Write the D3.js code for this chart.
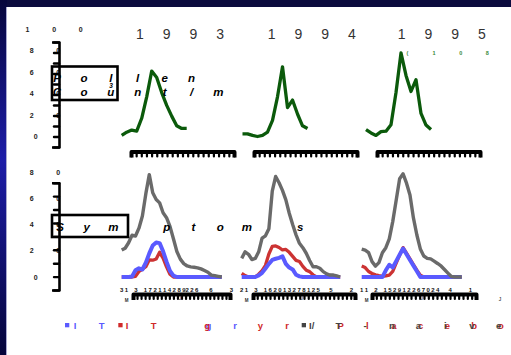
<!DOCTYPE html>
<html>
<head>
<meta charset="utf-8">
<script src="https://cdn.jsdelivr.net/npm/d3@7"></script>
<style>
  body { margin: 0; background: #fff; }
  svg { display: block; font-family: Arial, "Liberation Sans", sans-serif; }
</style>
</head>
<body>
<svg id="chart" width="511" height="355"></svg>
<script>
// ---- data ----
const years = ['1993', '1994', '1995'];

// pollen count / m3, weekly
const pollen1993 = [1, 4, 6, 5, 17, 37, 61, 55, 41, 29, 19, 10, 7.5, 7.5];
const pollen1994 = [2.5, 2.5, 1, 0, 1, 4, 15, 37, 65, 27, 34, 21, 10, 7.5];
const pollen1995 = [6.5, 3.3, 1, 4.5, 5, 11, 41, 78, 57, 42, 53, 21.5, 10.7, 6.5];
const pollenNote1995 = '(108';

// symptom scores
const naive1993 = [20.5, 21.9, 26.1, 31.8, 31.2, 37.2, 46.5, 63.5, 78, 64.2, 59.1, 56.5, 48.9, 45.2, 38.6, 29.1, 19.4, 13.6, 10.2, 8.4, 7.7, 7.4, 7, 6.2, 4.9, 3.6, 1.4, 1, 0.5, 0];
const red1993 = [0, 0, 0, 0, 0.5, 4.2, 5.9, 7.8, 13.1, 12.8, 13.7, 18.8, 14.4, 7.7, 2.1, 0, 0, 0, 0, 0, 0, 0, 0, 0, 0, 0, 0, 0, 0, 0];
const blue1993 = [0, 0, 0, 0.4, 5.1, 6.6, 5.7, 10.9, 18, 24, 26.3, 25.8, 19.6, 11.7, 4.7, 1.1, 0, 0, 0, 0, 0, 0, 0, 0, 0, 0, 0, 0, 0, 0];

const naive1994 = [14.2, 19.2, 17.3, 13.3, 14.1, 19.2, 29.6, 31.4, 36.7, 65.4, 76.6, 71.8, 66, 58.8, 48.6, 40, 32.1, 25.7, 22.3, 18.1, 12.6, 7.8, 7.8, 6.7, 4.1, 2.4, 1.5, 1.5, 0.8, 0];
const red1994 = [2.8, 1.1, 0, 0, 0.2, 2.1, 4.9, 8.9, 17.5, 23.4, 23.7, 22.5, 20.6, 21, 18.8, 15.7, 12.7, 11.8, 8.1, 5.2, 4.1, 1.7, 0, 0, 0, 0, 0, 0, 0, 0];
const blue1994 = [0, 0, 0, 0, 0, 1.2, 3.2, 6.5, 10, 13, 13.9, 14.6, 15.7, 10, 7.2, 5.8, 1.7, 0.5, 0, 0, 0, 0, 0, 0, 0, 0, 0, 0, 0, 0];

const naive1995 = [21.3, 20.5, 18.5, 11.7, 8.3, 11, 18.5, 22.3, 29, 42.2, 58.4, 74.9, 78.6, 71.5, 62.5, 45, 32, 21.4, 16, 14.2, 13.8, 12.1, 10.3, 8.4, 5.7, 3, 0.4, 0, 0, 0];
const red1995 = [8.4, 7.2, 4.2, 2.7, 1.7, 1, 0.4, 0.8, 1.4, 4.2, 10.6, 16.6, 22.4, 18.2, 13.8, 9.5, 5.2, 1.4, 0, 0, 0, 0, 0, 0, 0, 0, 0, 0, 0, 0];
const blue1995 = [0, 0, 0, 0, 0, 0, 0, 5.1, 9.3, 7.3, 12.1, 17, 21.7, 17.3, 12.9, 8.7, 4.4, 0, 0, 0, 0, 0, 0, 0, 0, 0, 0, 0, 0, 0];

// tick labels
const topTicks = [0, 20, 40, 60, 80, 100];
const bottomTicks = [0, 20, 40, 60, 80];
const dateLabels = [
  '3 1    3    1 7 2 1 1 4 2 8 92 2 6       6           3',
  '2 1    3    1 6 2 0 1 3 2 7 8 1 2 5      5           2',
  '1 1    2    1 5 2 9 1 2 2 6 7 0 2 4      4           1'
];
const monthMarks = ['M', 'J'];
const topLabel = ['Pollen', 'Count/m'];
const bottomLabel = 'Sym ptom s';
const legendBlue = 'IT   gr';
const legendRed = 'IT g yr Placebo';
const legendGray = ['I/', 'T', '-', 'n', 'a', 'i', 'v', 'e'];

const colors = { pollen: '#0b5a0b', naive: '#6a6a6a', red: '#cc3333', blue: '#5a5aff' };

// ---- drawing ----
const svg = d3.select('#chart');
const defs = svg.append('defs');
const grad = defs.append('linearGradient').attr('id', 'edge')
  .attr('x1', 0).attr('y1', 0).attr('x2', 0).attr('y2', 1);
grad.append('stop').attr('offset', '0%').attr('stop-color', '#06063c');
grad.append('stop').attr('offset', '45%').attr('stop-color', '#1d1da8');
grad.append('stop').attr('offset', '100%').attr('stop-color', '#05053a');

svg.append('rect').attr('width', 511).attr('height', 355).attr('fill', '#0b0b3e');
svg.append('rect').attr('width', 7).attr('height', 355).attr('fill', 'url(#edge)');
svg.append('rect').attr('x', 7).attr('y', 7).attr('width', 504).attr('height', 348).attr('fill', '#fff');
svg.append('line').attr('x1', 6.5).attr('x2', 6.5).attr('y1', 7).attr('y2', 355)
  .attr('stroke', '#a8a8d0').attr('stroke-width', 1);

// glyphs spread out one by one
function spaced(g, chars, x0, y, adv) {
  const t = g.append('text').attr('y', y).attr('text-anchor', 'middle');
  t.selectAll('tspan')
    .data(Array.from(chars).map((c, i) => ({ c, i })).filter(d => d.c !== ' '))
    .join('tspan')
    .attr('x', d => x0 + d.i * adv)
    .text(d => d.c);
  return t;
}

function comb(g, scale, n, y) {
  const ax = g.append('g').attr('transform', `translate(0,${y})`)
    .call(d3.axisBottom(scale).tickValues(d3.range(n)).tickSize(5).tickSizeOuter(6).tickFormat(''));
  ax.select('.domain').attr('stroke', '#000').attr('stroke-width', 4).attr('stroke-linejoin', 'round');
  ax.selectAll('.tick line').attr('stroke', '#000').attr('stroke-width', 2.2).attr('stroke-linecap', 'round');
}

function yAxis(g, scale, ticks, x) {
  const ax = g.append('g').attr('transform', `translate(${x},0)`)
    .call(d3.axisLeft(scale).tickValues(ticks).tickSize(5).tickSizeOuter(7).tickFormat(''));
  ax.select('.domain').attr('stroke', '#000').attr('stroke-width', 2.6).attr('stroke-linejoin', 'round');
  ax.selectAll('.tick line').attr('stroke', '#000').attr('stroke-width', 2.4).attr('stroke-linecap', 'round');
}

function yLabels(g, scale, ticks) {
  ticks.forEach(v => {
    const s = String(v);
    spaced(g, s, 40 - 4.2 * s.length, scale(v) + 2.5, 26.7)
      .attr('font-size', 7).attr('font-weight', 'bold').attr('fill', '#222');
  });
}

// --- top row: pollen ---
const yTop = d3.scaleLinear().domain([0, 100]).range([136.5, 29.3]);
const yTopAxis = yTop.copy().range([147, 42]);
const topG = svg.append('g');
yLabels(topG, yTop, topTicks);
yAxis(topG, yTopAxis, d3.range(0, 101, 10), 59);

const topPanels = [
  { values: pollen1993, title: 140, data: [121.7, 186.7], axis: [131, 234] },
  { values: pollen1994, title: 271.7, data: [242.5, 307.5], axis: [254, 357] },
  { values: pollen1995, title: 401.7, data: [366, 431], axis: [377, 480] }
];
topPanels.forEach((p, k) => {
  spaced(topG, years[k], p.title, 38.5, 26.7).attr('font-size', 14).attr('fill', '#333');
  const x = d3.scaleLinear().domain([0, p.values.length - 1]).range(p.data);
  topG.append('path').datum(p.values)
    .attr('fill', 'none').attr('stroke', colors.pollen).attr('stroke-width', 3.3)
    .attr('stroke-linejoin', 'round')
    .attr('d', d3.line().x((d, i) => x(i)).y(d => yTop(d)));
  comb(topG, d3.scaleLinear().domain([0, 20]).range(p.axis), 21, 151.5);
});
spaced(topG, pollenNote1995, 407.3, 54.5, 26.7)
  .attr('font-size', 5.5).attr('font-weight', 'bold').attr('fill', '#3a8a3a');

topG.append('rect').attr('x', 52).attr('y', 66.5).attr('width', 65.5).attr('height', 33.5)
  .attr('fill', 'none').attr('stroke', '#000').attr('stroke-width', 2.6);
spaced(topG, topLabel[0], 57, 81.5, 26.9)
  .attr('font-size', 11.5).attr('font-weight', 'bold').attr('font-style', 'italic').attr('fill', '#000');
spaced(topG, topLabel[1], 57, 96.3, 26.9)
  .attr('font-size', 11.5).attr('font-weight', 'bold').attr('font-style', 'italic').attr('fill', '#000');
topG.append('text').attr('x', 111).attr('y', 87.5).attr('text-anchor', 'middle')
  .attr('font-size', 6.5).attr('font-style', 'italic').attr('font-weight', 'bold').text('3');

// --- bottom row: symptoms ---
const yBot = d3.scaleLinear().domain([0, 80]).range([277, 172]);
const yBotAxis = yBot.copy().range([290, 182.7]);
const botG = svg.append('g');
yLabels(botG, yBot, bottomTicks);
yAxis(botG, yBotAxis, d3.range(0, 81, 10), 59);

const botPanels = [
  { naive: naive1993, red: red1993, blue: blue1993, data: [121.7, 221.7], axis: [133, 230], lab: [120, 233], mid: 180 },
  { naive: naive1994, red: red1994, blue: blue1994, data: [241.7, 340.2], axis: [253, 355], lab: [240, 353], mid: 301.7 },
  { naive: naive1995, red: red1995, blue: blue1995, data: [361.7, 461.7], axis: [372, 476], lab: [360, 472], mid: 421.7 }
];
botPanels.forEach((p, k) => {
  const x = d3.scaleLinear().domain([0, p.naive.length - 1]).range(p.data);
  const line = d3.line().x((d, i) => x(i)).y(d => yBot(d));
  [['red', 3.3], ['blue', 4], ['naive', 3.4]].forEach(([key, w]) => {
    botG.append('path').datum(p[key])
      .attr('fill', 'none').attr('stroke', colors[key]).attr('stroke-width', w)
      .attr('stroke-linejoin', 'round')
      .attr('d', line);
  });
  comb(botG, d3.scaleLinear().domain([0, 24]).range(p.axis), 25, 294);
  botG.append('text').attr('x', p.lab[0]).attr('y', 291.5)
    .attr('xml:space', 'preserve')
    .attr('textLength', p.lab[1] - p.lab[0]).attr('lengthAdjust', 'spacing')
    .attr('font-size', 6).attr('font-weight', 'bold').attr('fill', '#111')
    .text(dateLabels[k]);
  botG.append('text').attr('x', p.lab[0] + 6.5).attr('y', 302)
    .attr('text-anchor', 'middle').attr('font-size', 4.5).attr('font-weight', 'bold').attr('fill', '#333').text(monthMarks[0]);
  botG.append('text').attr('x', p.mid).attr('y', 300)
    .attr('text-anchor', 'middle').attr('font-size', 4.5).attr('font-weight', 'bold').attr('fill', '#555').text(monthMarks[1]);
});
botG.append('text').attr('x', 500).attr('y', 301)
  .attr('text-anchor', 'middle').attr('font-size', 4.5).attr('font-weight', 'bold').attr('fill', '#555').text(monthMarks[1]);

botG.append('rect').attr('x', 52).attr('y', 215).attr('width', 76).attr('height', 22)
  .attr('fill', 'none').attr('stroke', '#000').attr('stroke-width', 2.6);
spaced(botG, bottomLabel, 60, 231, 26.7)
  .attr('font-size', 11.5).attr('font-weight', 'bold').attr('font-style', 'italic').attr('fill', '#000');

// --- legend ---
const leg = svg.append('g').attr('font-size', 9.5).attr('font-weight', 'bold');
const legendItems = [
  { sq: 65, x0: 75, text: legendBlue, color: colors.blue },
  { sq: 118.3, x0: 127, text: legendRed, color: '#d02a2a' },
  { sq: 301.7, x0: 311.7, text: legendGray, color: '#444' }
];
legendItems.forEach(it => {
  leg.append('rect').attr('x', it.sq).attr('y', 323).attr('width', 4.3).attr('height', 4.3).attr('fill', it.color);
  spaced(leg, it.text, it.x0, 328.5, 26.7).attr('fill', it.color);
});
</script>
</body>
</html>
